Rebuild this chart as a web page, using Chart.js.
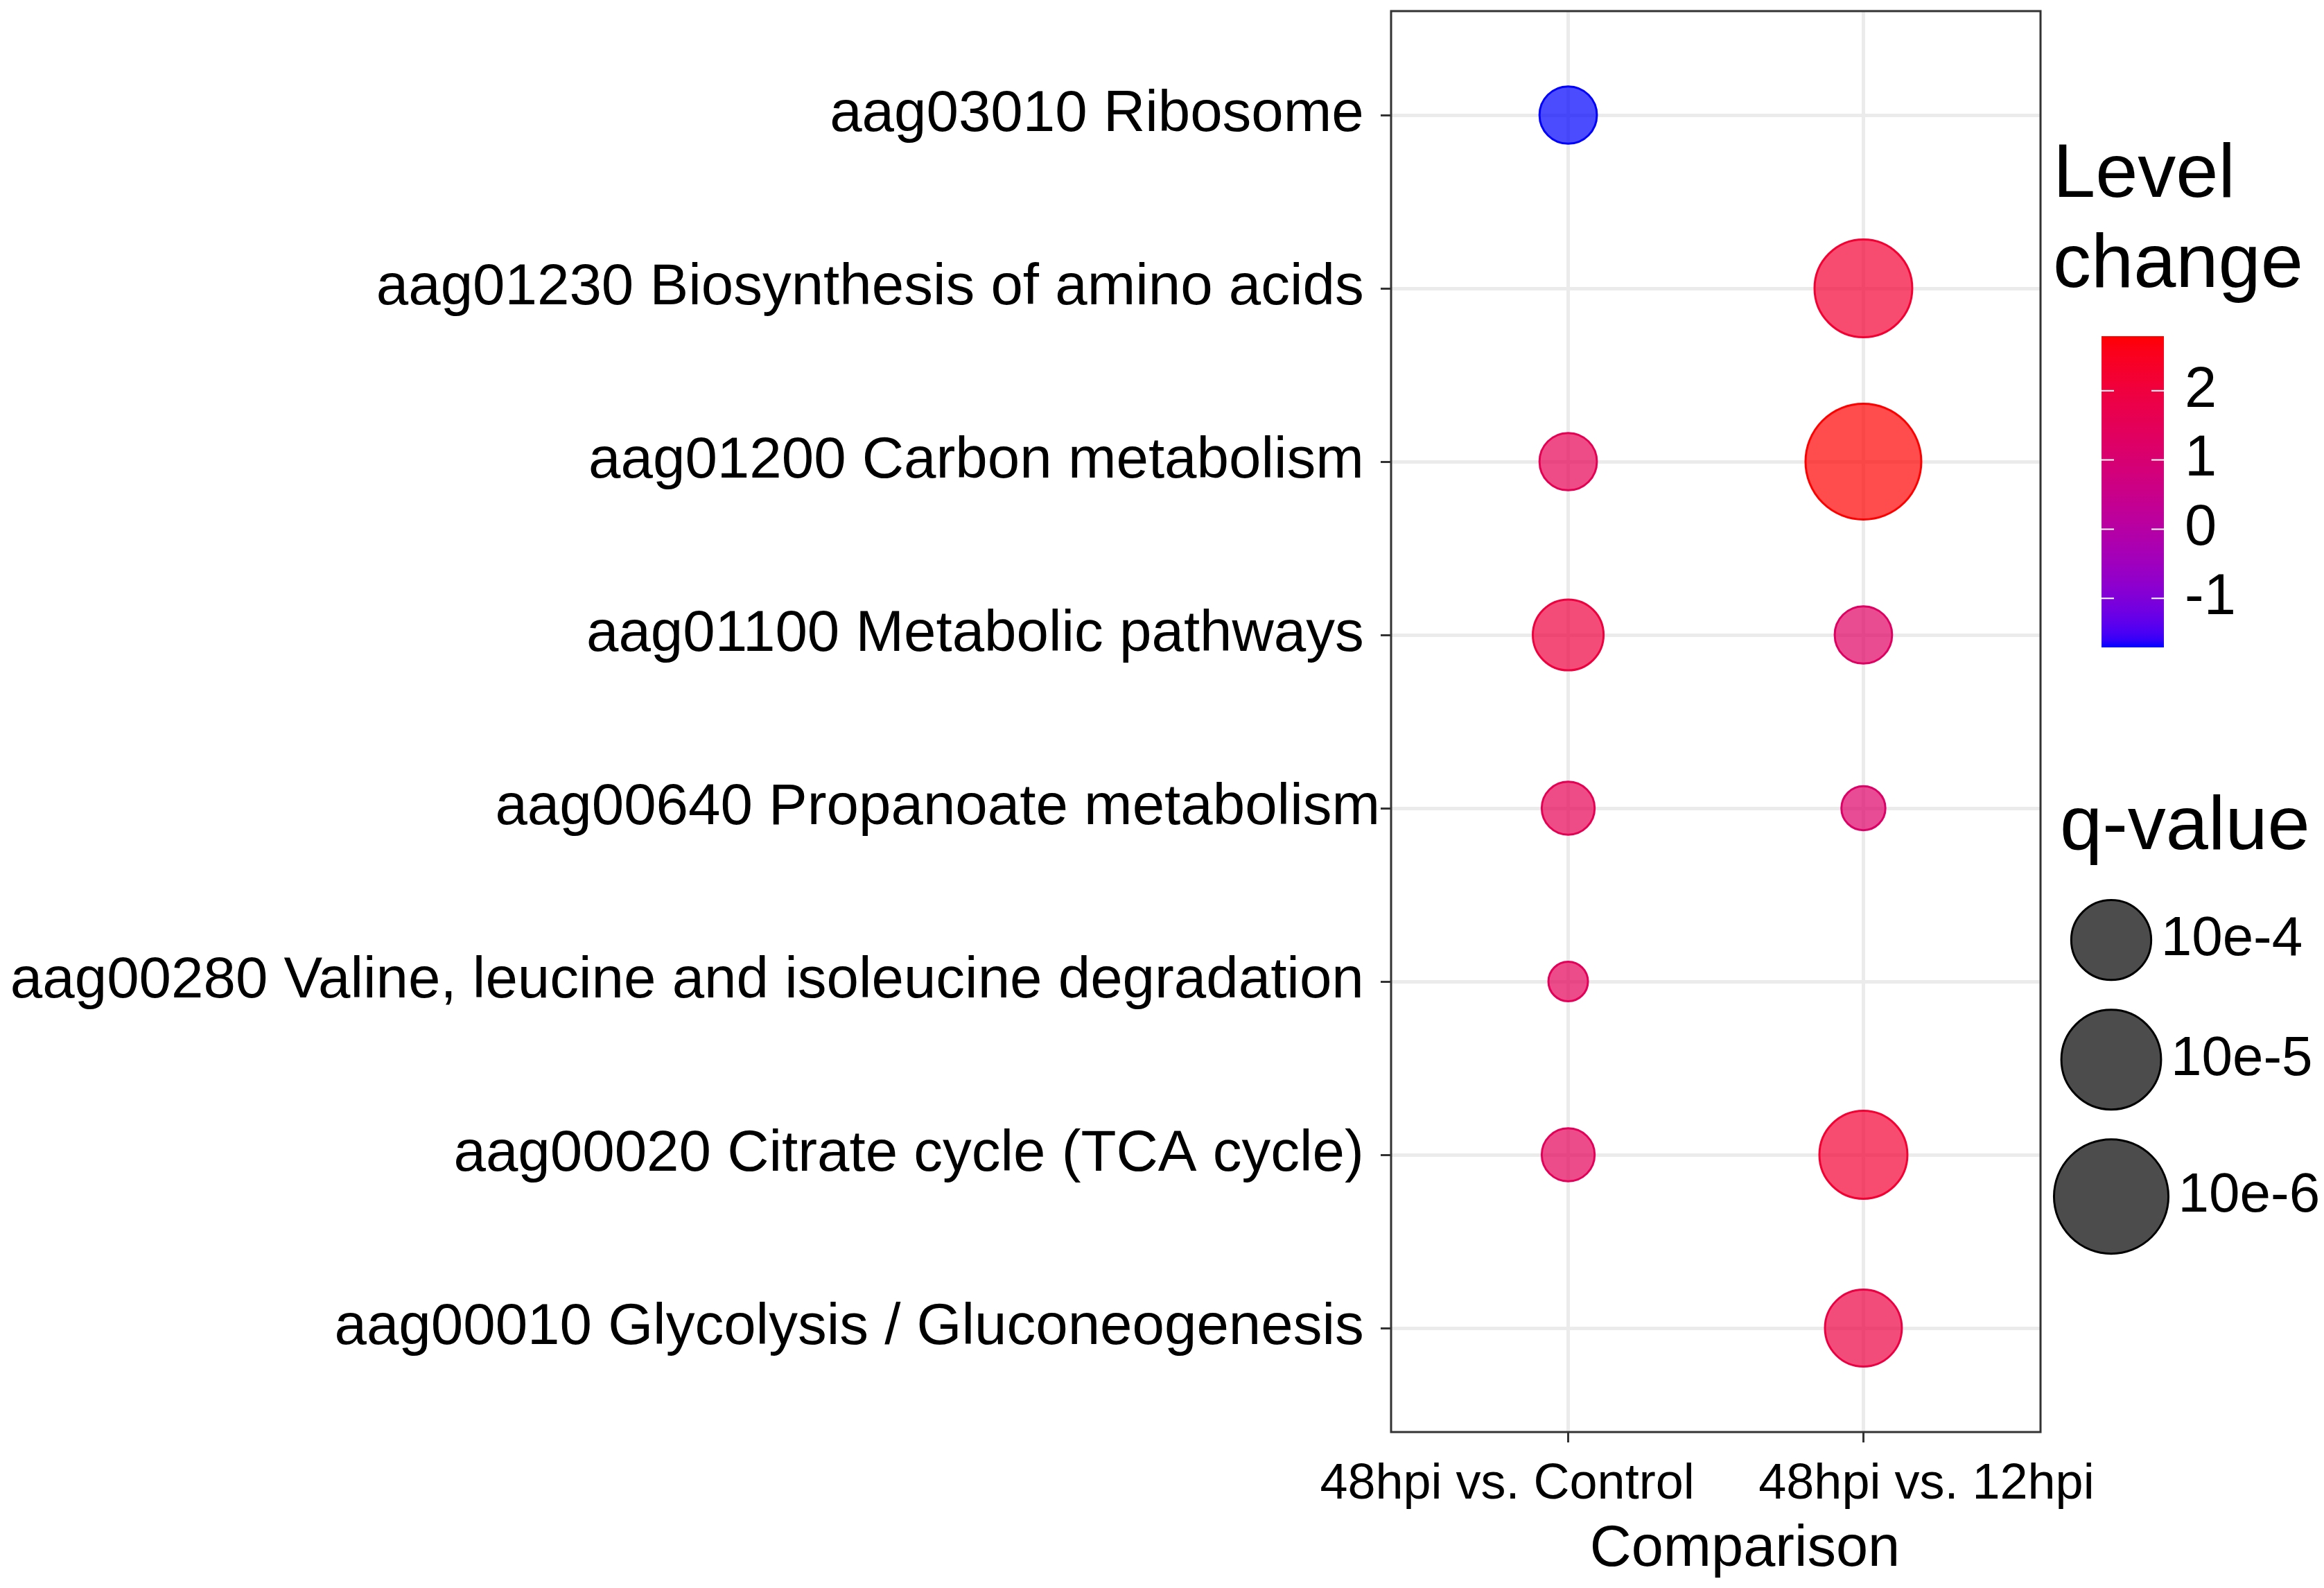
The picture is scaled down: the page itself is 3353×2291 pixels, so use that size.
<!DOCTYPE html>
<html>
<head>
<meta charset="utf-8">
<title>KEGG pathway bubble chart</title>
<script src="https://cdn.jsdelivr.net/npm/chart.js@4.4.1/dist/chart.umd.min.js"></script>
<style>
  html, body { margin: 0; padding: 0; background: #fff; }
  #wrap { width: 3353px; height: 2291px; }
</style>
</head>
<body>
<div id="wrap"><canvas id="bubbleChart"></canvas></div>
<script>
// Pathways, top to bottom (trailing spaces are in the original labels)
const pathways = [
    'aag03010 Ribosome ',
    'aag01230 Biosynthesis of amino acids ',
    'aag01200 Carbon metabolism ',
    'aag01100 Metabolic pathways ',
    'aag00640 Propanoate metabolism',
    'aag00280 Valine, leucine and isoleucine degradation ',
    'aag00020 Citrate cycle (TCA cycle) ',
    'aag00010 Glycolysis / Gluconeogenesis '
];
const comparisons = ['48hpi vs. Control', '48hpi vs. 12hpi'];

// Level change per pathway (null = not enriched)
const levelVsControl = [-1.71, null, 1.6, 2.0, 1.6, 1.5, 1.5, null];
const levelVs12hpi   = [null, 2.2, 2.79, 1.3, 1.2, null, 2.2, 1.9];

// -log10(q-value) per pathway
const negLogQVsControl = [3.34, null, 3.34, 3.67, 3.27, 3.18, 3.27, null];
const negLogQVs12hpi   = [null, 4.88, 6.10, 3.34, 3.19, null, 4.36, 3.88];

// Legends
const colorbarTicks = [2, 1, 0, -1];
const sizeLegendValues = [4, 5, 6];
const sizeLegendLabels = ['10e-4', '10e-5', '10e-6'];

const FONT = "'Liberation Sans', Arial, sans-serif";
Chart.defaults.font.family = FONT;
Chart.defaults.color = '#000';

// --- colour scale: blue -> red, interpolated in Lab like ggplot ---
const WX = 0.95047, WY = 1.0, WZ = 1.08883;
function toLinear(c) { c /= 255; return c <= 0.04045 ? c / 12.92 : Math.pow((c + 0.055) / 1.055, 2.4); }
function toSrgb(c) {
    c = Math.min(1, Math.max(0, c));
    return Math.round(255 * (c <= 0.0031308 ? 12.92 * c : 1.055 * Math.pow(c, 1 / 2.4) - 0.055));
}
function rgbToLab(rgb) {
    const R = toLinear(rgb[0]), G = toLinear(rgb[1]), B = toLinear(rgb[2]);
    const x = (0.4124 * R + 0.3576 * G + 0.1805 * B) / WX;
    const y = (0.2126 * R + 0.7152 * G + 0.0722 * B) / WY;
    const z = (0.0193 * R + 0.1192 * G + 0.9505 * B) / WZ;
    const f = t => t > 0.008856 ? Math.cbrt(t) : 7.787 * t + 16 / 116;
    const fx = f(x), fy = f(y), fz = f(z);
    return [116 * fy - 16, 500 * (fx - fy), 200 * (fy - fz)];
}
function labToRgb(lab) {
    const fy = (lab[0] + 16) / 116, fx = fy + lab[1] / 500, fz = fy - lab[2] / 200;
    const inv = t => t * t * t > 0.008856 ? t * t * t : (t - 16 / 116) / 7.787;
    const x = inv(fx) * WX, y = inv(fy) * WY, z = inv(fz) * WZ;
    return [
        toSrgb(3.2406 * x - 1.5372 * y - 0.4986 * z),
        toSrgb(-0.9689 * x + 1.8758 * y + 0.0415 * z),
        toSrgb(0.0557 * x - 0.2040 * y + 1.0570 * z)
    ];
}
const LAB_LOW = rgbToLab([0, 0, 255]);
const LAB_HIGH = rgbToLab([255, 0, 0]);
const allLevels = levelVsControl.concat(levelVs12hpi).filter(v => v !== null);
const levelMin = Math.min(...allLevels);
const levelMax = Math.max(...allLevels);

function levelColor(level, alpha) {
    const t = (level - levelMin) / (levelMax - levelMin);
    const lab = LAB_LOW.map((v, i) => v + (LAB_HIGH[i] - v) * t);
    const c = labToRgb(lab);
    return 'rgba(' + c[0] + ',' + c[1] + ',' + c[2] + ',' + (alpha === undefined ? 1 : alpha) + ')';
}

// --- size scale: area proportional, like scale_size ---
const allQ = negLogQVsControl.concat(negLogQVs12hpi).filter(v => v !== null);
const qMin = Math.min(...allQ);
const qMax = Math.max(...allQ);
const R_MIN = 28.5, R_MAX = 83.5;
function bubbleRadius(v) {
    const t = Math.max(0, (v - qMin) / (qMax - qMin));
    return R_MIN + (R_MAX - R_MIN) * Math.sqrt(t);
}

function buildPoints(levels, negLogQ, col) {
    const pts = [];
    pathways.forEach((p, i) => {
        if (levels[i] === null) return;
        pts.push({ x: col + 1, y: i + 1, r: bubbleRadius(negLogQ[i]), level: levels[i] });
    });
    return pts;
}

const datasets = [
    { label: comparisons[0], data: buildPoints(levelVsControl, negLogQVsControl, 0) },
    { label: comparisons[1], data: buildPoints(levelVs12hpi, negLogQVs12hpi, 1) }
].map(ds => Object.assign(ds, {
    backgroundColor: ctx => levelColor(ctx.raw.level, 0.7),
    borderColor: ctx => levelColor(ctx.raw.level, 1),
    borderWidth: 3,
    hoverRadius: 0
}));

// Panel border on top, like theme_bw
const panelBorder = {
    id: 'panelBorder',
    afterDatasetsDraw(chart) {
        const { ctx, chartArea: a } = chart;
        ctx.save();
        ctx.strokeStyle = '#333333';
        ctx.lineWidth = 3;
        ctx.strokeRect(a.left, a.top, a.right - a.left, a.bottom - a.top);
        ctx.restore();
    }
};

// x tick labels sit spread outwards from their ticks in the original
const X_LABEL_SHIFT = [-88, 91];
const xLabels = {
    id: 'xLabels',
    afterDraw(chart) {
        const ctx = chart.ctx, xs = chart.scales.x;
        ctx.save();
        ctx.fillStyle = '#000';
        ctx.textAlign = 'center';
        ctx.textBaseline = 'alphabetic';
        ctx.font = '72px ' + FONT;
        comparisons.forEach((c, i) => {
            ctx.fillText(c, xs.getPixelForValue(i + 1) + X_LABEL_SHIFT[i], 2162);
        });
        ctx.font = '83px ' + FONT;
        ctx.fillText('Comparison', (xs.left + xs.right) / 2 + 42, 2259);
        ctx.restore();
    }
};

// Colour bar and size legend on the right
const sideLegends = {
    id: 'sideLegends',
    afterDraw(chart) {
        const ctx = chart.ctx;
        ctx.save();
        ctx.fillStyle = '#000';
        ctx.textAlign = 'left';
        ctx.textBaseline = 'alphabetic';
        ctx.font = '110px ' + FONT;
        ctx.fillText('Level', 2962, 284);
        ctx.fillText('change', 2962, 414);

        // colour bar
        const barX = 3032, barW = 90, barTop = 485, barBottom = 934;
        const grad = ctx.createLinearGradient(0, barBottom, 0, barTop);
        for (let i = 0; i <= 40; i++) {
            const lv = levelMin + (levelMax - levelMin) * i / 40;
            grad.addColorStop(i / 40, levelColor(lv, 1));
        }
        ctx.fillStyle = grad;
        ctx.fillRect(barX, barTop, barW, barBottom - barTop);
        const yOf = lv => barBottom - (lv - levelMin) / (levelMax - levelMin) * (barBottom - barTop);
        ctx.strokeStyle = '#fff';
        ctx.lineWidth = 2;
        ctx.font = '83px ' + FONT;
        ctx.textBaseline = 'middle';
        colorbarTicks.forEach(t => {
            const y = yOf(t);
            ctx.beginPath();
            ctx.moveTo(barX, y); ctx.lineTo(barX + 18, y);
            ctx.moveTo(barX + barW - 18, y); ctx.lineTo(barX + barW, y);
            ctx.stroke();
            ctx.fillStyle = '#000';
            ctx.fillText(String(t), 3152, y);
        });

        // size legend
        ctx.textBaseline = 'alphabetic';
        ctx.font = '110px ' + FONT;
        ctx.fillText('q-value', 2972, 1225);
        let top = 1297;
        const cx = 3046;
        ctx.font = '80px ' + FONT;
        ctx.textBaseline = 'middle';
        sizeLegendValues.forEach((v, i) => {
            const r = bubbleRadius(v);
            const cy = top + r + 1.5;
            ctx.beginPath();
            ctx.arc(cx, cy, r, 0, Math.PI * 2);
            ctx.fillStyle = 'rgba(0,0,0,0.7)';
            ctx.fill();
            ctx.strokeStyle = '#000';
            ctx.lineWidth = 3;
            ctx.stroke();
            ctx.fillStyle = '#000';
            ctx.fillText(sizeLegendLabels[i], cx + r + 14, cy);
            top = cy + r + 1.5 + 40;
        });
        ctx.restore();
    }
};

const axisGrid = { color: '#EBEBEB', lineWidth: 5, tickLength: 15, tickColor: '#333333', tickWidth: 3 };

new Chart(document.getElementById('bubbleChart'), {
    type: 'bubble',
    data: { datasets },
    options: {
        responsive: true,
        maintainAspectRatio: false,
        animation: false,
        events: [],
        layout: { autoPadding: false, padding: { top: 16, right: 409, bottom: 0, left: 0 } },
        plugins: { legend: { display: false }, tooltip: { enabled: false } },
        scales: {
            x: {
                type: 'linear',
                min: 0.4,
                max: 2.6,
                afterBuildTicks: s => { s.ticks = comparisons.map((c, i) => ({ value: i + 1 })); },
                afterFit: s => { s.height = 225; s.paddingLeft = 0; s.paddingRight = 0; },
                ticks: { display: false },
                grid: axisGrid,
                border: { display: false }
            },
            y: {
                type: 'linear',
                min: 0.4,
                max: 8.6,
                reverse: true,
                afterBuildTicks: s => { s.ticks = pathways.map((p, i) => ({ value: i + 1 })); },
                afterFit: s => { s.width = 2007; s.paddingTop = 0; s.paddingBottom = 0; },
                ticks: {
                    callback: v => pathways[Math.round(v) - 1],
                    font: { size: 83.5 },
                    color: '#000',
                    padding: 1,
                    autoSkip: false
                },
                grid: axisGrid,
                border: { display: false }
            }
        }
    },
    plugins: [panelBorder, xLabels, sideLegends]
});
</script>
</body>
</html>
